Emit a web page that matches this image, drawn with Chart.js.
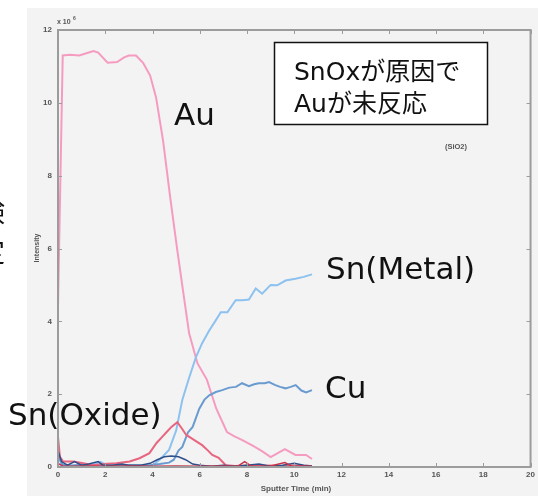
<!DOCTYPE html>
<html>
<head>
<meta charset="utf-8">
<script src="https://cdn.jsdelivr.net/npm/chart.js@4/dist/chart.umd.min.js"></script>
<style>
  html, body { margin: 0; padding: 0; background: #ffffff; }
  canvas { display: block; }
</style>
</head>
<body>
<canvas id="c" width="538" height="496"></canvas>
<script>
// Depth profile: intensity (x10^6) versus sputter time (min)

const xTicks = [0, 2, 4, 6, 8, 10, 12, 14, 16, 18, 20];
const yTicks = [0, 2, 4, 6, 8, 10, 12];

const auTime = [0, 0.2, 0.5, 0.9, 1.2, 1.5, 1.7, 2.1, 2.5, 2.8, 3.0, 3.3, 3.6, 3.9, 4.15, 4.45, 4.75, 5.05, 5.3, 5.55, 5.9, 6.3, 6.7, 7.15, 7.45, 7.8, 8.2, 8.6, 9.0, 9.3, 9.6, 10.05, 10.5, 10.75];
const auValue = [4.4, 11.3, 11.32, 11.3, 11.36, 11.42, 11.38, 11.1, 11.12, 11.25, 11.3, 11.3, 11.1, 10.75, 10.15, 8.95, 7.4, 5.95, 4.8, 3.67, 2.85, 2.4, 1.6, 0.96, 0.85, 0.74, 0.6, 0.45, 0.27, 0.38, 0.49, 0.33, 0.33, 0.22];

const snMetalTime = [0, 0.15, 0.5, 0.9, 1.3, 1.8, 2.1, 2.6, 3.0, 3.5, 4.0, 4.3, 4.7, 5.0, 5.26, 5.56, 5.84, 6.1, 6.4, 6.65, 6.89, 7.17, 7.52, 7.8, 8.08, 8.37, 8.64, 9.0, 9.28, 9.63, 10.05, 10.4, 10.75];
const snMetalValue = [0.35, 0.05, 0.03, 0.05, 0.03, 0.14, 0.03, 0.04, 0.03, 0.04, 0.05, 0.2, 0.47, 1.0, 1.84, 2.47, 3.02, 3.4, 3.75, 4.0, 4.25, 4.25, 4.58, 4.58, 4.6, 4.9, 4.76, 5.0, 4.99, 5.12, 5.17, 5.22, 5.29];

const cuTime = [0, 0.2, 0.6, 1.0, 1.5, 2.0, 2.5, 3.0, 3.5, 3.9, 4.3, 4.7, 4.9, 5.1, 5.26, 5.5, 5.7, 5.98, 6.2, 6.4, 6.68, 6.95, 7.25, 7.53, 7.79, 8.08, 8.3, 8.5, 8.75, 8.93, 9.2, 9.4, 9.63, 9.85, 10.06, 10.3, 10.5, 10.75];
const cuValue = [0.3, 0.06, 0.04, 0.06, 0.04, 0.05, 0.04, 0.05, 0.04, 0.05, 0.08, 0.12, 0.2, 0.45, 0.55, 0.95, 1.1, 1.6, 1.85, 1.97, 2.06, 2.11, 2.18, 2.2, 2.3, 2.22, 2.27, 2.3, 2.3, 2.33, 2.25, 2.2, 2.16, 2.2, 2.25, 2.1, 2.05, 2.11];

const snOxideTime = [0, 0.08, 0.22, 0.65, 1.07, 1.47, 1.9, 2.47, 3.03, 3.45, 3.87, 4.17, 4.4, 4.6, 4.8, 5.05, 5.25, 5.43, 5.77, 6.1, 6.35, 6.53, 6.8, 7.1, 7.5, 8.0, 8.5, 9.0, 9.5, 10.0, 10.75];
const snOxideValue = [0.83, 0.28, 0.15, 0.15, 0.1, 0.05, 0.08, 0.1, 0.15, 0.24, 0.38, 0.66, 0.82, 0.96, 1.1, 1.23, 1.05, 0.88, 0.74, 0.6, 0.45, 0.33, 0.25, 0.05, 0.03, 0.04, 0.03, 0.04, 0.03, 0.04, 0.03];

const siTime = [0, 0.15, 0.4, 0.7, 1.0, 1.3, 1.7, 1.9, 2.3, 2.7, 3.0, 3.5, 3.9, 4.2, 4.5, 4.8, 5.1, 5.4, 5.7, 6.0, 6.5, 7.0, 7.5, 8.0, 8.5, 9.0, 9.5, 10.0, 10.4, 10.75];
const siValue = [0.45, 0.15, 0.05, 0.15, 0.05, 0.08, 0.15, 0.05, 0.05, 0.08, 0.05, 0.05, 0.1, 0.2, 0.28, 0.3, 0.28, 0.2, 0.08, 0.05, 0.02, 0.05, 0.02, 0.05, 0.08, 0.02, 0.05, 0.1, 0.05, 0.03];

const oTime = [0, 0.2, 0.6, 1.2, 2.0, 3.0, 4.0, 5.0, 6.0, 7.0, 7.6, 7.9, 8.2, 9.0, 9.6, 9.9, 10.3, 10.75];
const oValue = [0.1, 0.03, 0.02, 0.03, 0.02, 0.03, 0.02, 0.03, 0.02, 0.03, 0.02, 0.15, 0.02, 0.03, 0.12, 0.02, 0.03, 0.02];

function pts(t, v) { return t.map((x, i) => ({ x: x, y: v[i] })); }

function series(label, t, v, color, width) {
  return {
    label: label,
    data: pts(t, v),
    borderColor: color,
    backgroundColor: color,
    borderWidth: width,
    pointRadius: 0,
    tension: 0,
    fill: false
  };
}

const AXIS = '#9c9c9c';

// Panel background, frame, inward ticks and the text annotations
const decor = {
  id: 'decor',
  beforeDraw(chart) {
    const ctx = chart.ctx;
    ctx.save();
    ctx.fillStyle = '#ffffff';
    ctx.fillRect(0, 0, chart.width, chart.height);
    ctx.fillStyle = '#f3f3f3';
    ctx.fillRect(27, 8, chart.width - 27, chart.height - 8);
    ctx.restore();
  },
  afterDraw(chart) {
    const ctx = chart.ctx;
    const a = chart.chartArea;
    const xs = chart.scales.x, ys = chart.scales.y;
    ctx.save();
    ctx.strokeStyle = AXIS;
    ctx.lineWidth = 2;
    ctx.strokeRect(a.left, a.top, a.right - a.left, a.bottom - a.top);
    ctx.lineWidth = 1;
    ctx.beginPath();
    xTicks.forEach(v => {
      const px = Math.round(xs.getPixelForValue(v)) + 0.5;
      ctx.moveTo(px, a.bottom); ctx.lineTo(px, a.bottom - 4);
      ctx.moveTo(px, a.top); ctx.lineTo(px, a.top + 4);
    });
    yTicks.forEach(v => {
      const py = Math.round(ys.getPixelForValue(v)) + 0.5;
      ctx.moveTo(a.left, py); ctx.lineTo(a.left + 4, py);
      ctx.moveTo(a.right, py); ctx.lineTo(a.right - 4, py);
    });
    ctx.stroke();

    // exponent of the intensity axis
    ctx.fillStyle = '#555555';
    ctx.font = 'bold 7px "Liberation Sans"';
    ctx.textBaseline = 'alphabetic';
    ctx.textAlign = 'left';
    ctx.fillText('x 10', 57, 24);
    ctx.font = 'bold 5px "Liberation Sans"';
    ctx.fillText('6', 73, 20);

    // axis titles
    ctx.font = 'bold 7px "Liberation Sans"';
    ctx.save();
    ctx.translate(39, 248);
    ctx.rotate(-Math.PI / 2);
    ctx.textAlign = 'center';
    ctx.fillText('Intensity', 0, 0);
    ctx.restore();
    ctx.font = 'bold 8px "Liberation Sans"';
    ctx.textAlign = 'center';
    ctx.fillText('Sputter Time (min)', 296, 491);
    ctx.font = 'bold 7.5px "Liberation Sans"';
    ctx.fillText('(SiO2)', 456, 149);

    // note box
    ctx.fillStyle = '#ffffff';
    ctx.fillRect(274, 42, 214, 83);
    ctx.strokeStyle = '#111111';
    ctx.lineWidth = 1.5;
    ctx.strokeRect(274.5, 42.5, 213, 82);
    ctx.fillStyle = '#111111';
    ctx.textAlign = 'left';
    ctx.font = '25px "DejaVu Sans", "Noto Sans CJK JP"';
    ctx.fillText('SnOxが原因で', 294, 80);
    ctx.fillText('Auが未反応', 294, 112);

    // series labels
    ctx.font = '31px "DejaVu Sans"';
    ctx.fillText('Au', 174, 125);
    ctx.fillText('Sn(Metal)', 326, 279);
    ctx.fillText('Cu', 325, 398);
    ctx.fillText('Sn(Oxide)', 8, 425);

    // side text running off the left edge
    ctx.font = '27px "Noto Sans CJK JP"';
    ctx.textAlign = 'right';
    ctx.fillText('験', 5, 222);
    ctx.fillText('定', 5, 262);
    ctx.restore();
  }
};

new Chart(document.getElementById('c'), {
  type: 'line',
  data: {
    datasets: [
      series('O', oTime, oValue, '#c8334a', 1.5),
      series('Si', siTime, siValue, '#2f4f8a', 1.5),
      series('Sn(Oxide)', snOxideTime, snOxideValue, '#e8657f', 2),
      series('Cu', cuTime, cuValue, '#6a9bd0', 2),
      series('Sn(Metal)', snMetalTime, snMetalValue, '#8dc1ef', 2),
      series('Au', auTime, auValue, '#f59bc0', 2)
    ]
  },
  options: {
    responsive: false,
    devicePixelRatio: 1,
    animation: false,
    layout: { padding: { top: 30, right: 5, left: 0, bottom: 0 } },
    plugins: { legend: { display: false }, tooltip: { enabled: false } },
    scales: {
      x: {
        type: 'linear',
        min: 0, max: 20,
        afterFit(s) { s.height = 29; },
        afterBuildTicks(s) { s.ticks = xTicks.map(v => ({ value: v })); },
        ticks: { color: '#555555', font: { size: 8, weight: 'bold', family: 'Liberation Sans' }, padding: 3, maxRotation: 0 },
        grid: { display: false, drawTicks: false },
        border: { color: AXIS, width: 2 }
      },
      y: {
        type: 'linear',
        min: 0, max: 12,
        afterFit(s) { s.width = 58; },
        afterBuildTicks(s) { s.ticks = yTicks.map(v => ({ value: v })); },
        ticks: { color: '#555555', font: { size: 8, weight: 'bold', family: 'Liberation Sans' }, padding: 6 },
        grid: { display: false, drawTicks: false },
        border: { color: AXIS, width: 2 }
      }
    }
  },
  plugins: [decor]
});
</script>
</body>
</html>
